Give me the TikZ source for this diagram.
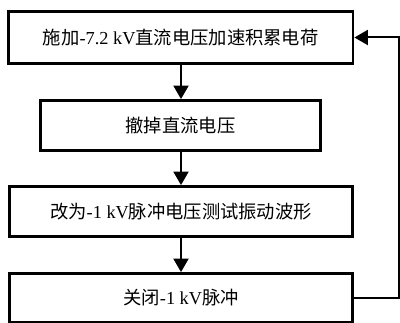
\documentclass[tikz,border=0pt]{standalone}
\usepackage{fontspec}
\setmainfont{Liberation Serif}
\newfontfamily\cjk{Noto Sans CJK SC}
\usetikzlibrary{arrows.meta}
\tikzset{
  stepbox/.style={draw=black, line width=2.8pt, rectangle, inner sep=0pt, fill=white,
    font=\fontsize{18.3}{22}\selectfont},
  arr/.style={draw=black, line width=2pt, line join=miter, -{Triangle[width=15pt,length=13.5pt]}}
}
\begin{document}
\begin{tikzpicture}[x=1pt,y=-1pt]
\useasboundingbox (0,0) rectangle (400,323);
\node[stepbox, minimum width=344.5pt, minimum height=52pt] (b1) at (180.75,37.5)
  {{\cjk 施加}-7.2 kV{\cjk 直流电压加速积累电荷}};
\node[stepbox, minimum width=280pt, minimum height=50pt] (b2) at (180.5,125.5)
  {{\cjk 撤掉直流电压}};
\node[stepbox, minimum width=343pt, minimum height=50pt] (b3) at (181,211.5)
  {{\cjk 改为}-1 kV{\cjk 脉冲电压测试振动波形}};
\node[stepbox, minimum width=343pt, minimum height=49pt] (b4) at (181,298)
  {{\cjk 关闭}-1 kV{\cjk 脉冲}};
\coordinate (c1) at (399,298);
\coordinate (c2) at (399,37.5);
\draw[arr] (181,0 |- b1.south) -- (181,0 |- b2.north);
\draw[arr] (181,0 |- b2.south) -- (181,0 |- b3.north);
\draw[arr] (b3.south) -- (b4.north);
\draw[arr] (b4.east) -- (c1) -- (c2) -- (b1.east);
\end{tikzpicture}
\end{document}
